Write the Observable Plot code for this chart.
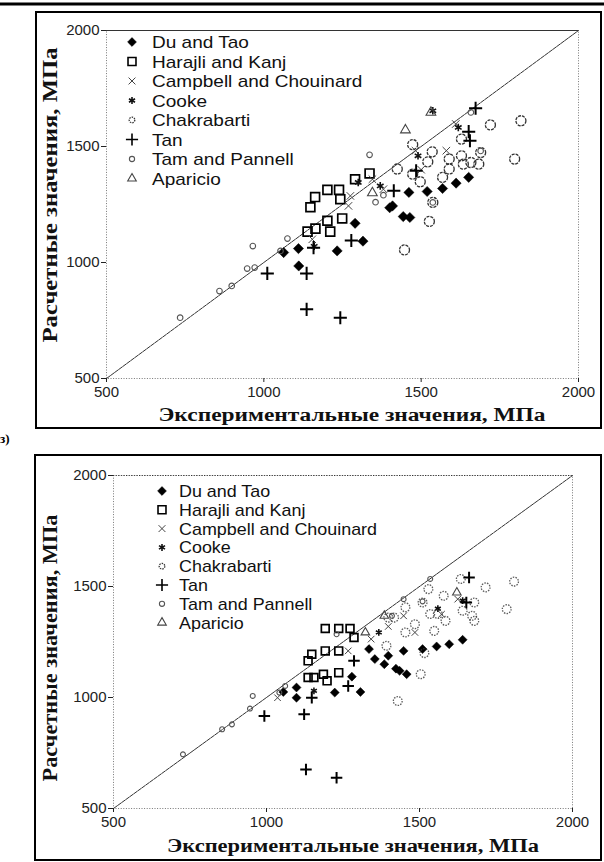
<!DOCTYPE html>
<html><head><meta charset="utf-8">
<script src="https://cdn.jsdelivr.net/npm/d3@7"></script>
<script src="https://cdn.jsdelivr.net/npm/@observablehq/plot@0.6"></script>
<style>
html,body{margin:0;padding:0;background:#fff}
body{width:604px;height:862px;position:relative;overflow:hidden;font-family:Arial,"Liberation Sans",sans-serif}
.chart{position:absolute}
#overlay{position:absolute;left:0;top:0;pointer-events:none}
</style></head><body>
<div id="c1" class="chart" style="left:36px;top:12px"></div>
<div id="c2" class="chart" style="left:35px;top:455px"></div>
<svg id="overlay" width="604" height="862"></svg>
<script>
// ---------- data ----------
const seriesNames = ["Du and Tao","Harajli and Kanj","Campbell and Chouinard","Cooke","Chakrabarti","Tan","Tam and Pannell","Aparicio"];
const tickValues = [500, 1000, 1500, 2000];
const diagonal = [500, 2000];
const xTitle = "Экспериментальные значения, МПа";
const yTitle = "Расчетные значения, МПа";
const panelLabel = "з)";

// top chart
const topDuTao = [[1063,1043],[1110,1060],[1111,985],[1233,1050],[1315,1092],[1290,1169],[1400,1236],[1409,1244],[1443,1198],[1464,1194],[1461,1302],[1519,1306],[1568,1319],[1611,1342],[1651,1367]];
const topHarajli = [[1148,1238],[1163,1282],[1202,1313],[1239,1313],[1243,1273],[1249,1190],[1202,1180],[1211,1133],[1164,1146],[1139,1133],[1290,1359],[1336,1384]];
const topCampbell = [[1154,1100],[1269,1244],[1275,1287],[1345,1359],[1380,1316],[1482,1482],[1500,1400],[1580,1482],[1610,1597]];
const topCooke = [[1160,1070],[1300,1345],[1490,1460],[1537,1654],[1618,1582],[1370,1330]];
const topChakrabarti = [[1447,1054],[1526,1177],[1720,1593],[1817,1611],[1797,1446],[1473,1508],[1497,1348],[1568,1367],[1589,1446],[1628,1460],[1658,1431],[1683,1424],[1628,1532],[1535,1477],[1521,1434],[1473,1381],[1424,1403],[1537,1259],[1689,1474],[1634,1424],[1589,1403]];
const topTan = [[1011,953],[1136,953],[1136,798],[1243,762],[1158,1064],[1278,1095],[1673,1665],[1655,1525],[1651,1564],[1484,1395],[1413,1309]];
const topTam = [[734,762],[859,877],[898,899],[947,974],[971,978],[965,1071],[1053,1050],[1075,1103],[1336,1464],[1658,1647],[1689,1481],[1537,1259],[1355,1260],[1380,1290]];
const topAparicio = [[1450,1571],[1531,1647],[1345,1300]];

// bottom chart
const botDuTao = [[1055,1025],[1098,999],[1098,1045],[1223,1022],[1307,1025],[1279,1094],[1335,1218],[1354,1173],[1385,1150],[1398,1188],[1423,1130],[1435,1120],[1458,1105],[1448,1210],[1510,1218],[1556,1230],[1597,1240],[1641,1260]];
const botHarajli = [[1192,1311],[1236,1311],[1273,1311],[1286,1270],[1192,1210],[1236,1210],[1148,1195],[1136,1165],[1186,1105],[1236,1112],[1198,1075],[1136,1090],[1155,1090]];
const botCampbell = [[1036,999],[1267,1210],[1342,1263],[1448,1368],[1485,1293],[1572,1375],[1625,1443],[1398,1320]];
const botCooke = [[1155,1030],[1367,1293],[1641,1436],[1560,1400]];
const botChakrabarti = [[1429,984],[1504,1105],[1516,1200],[1548,1300],[1392,1233],[1417,1360],[1454,1406],[1510,1428],[1485,1330],[1529,1488],[1635,1534],[1716,1496],[1809,1522],[1785,1398],[1672,1368],[1679,1428],[1641,1391],[1585,1345],[1560,1376],[1535,1376],[1579,1458],[1679,1345],[1454,1293],[1398,1360]];
const botTan = [[993,917],[1123,924],[1129,676],[1229,638],[1148,999],[1267,1052],[1286,1165],[1662,1541],[1653,1428]];
const botTam = [[727,744],[855,857],[887,879],[946,950],[955,1007],[1042,1022],[1061,1052],[1535,1534],[1448,1443],[1510,1433],[1410,1368],[1229,1285]];
const botAparicio = [[1385,1368],[1323,1293],[1622,1473]];

// ---------- styles ----------
const styles = {
  "Du and Tao": {symbol:"diamond2", fill:"#000", stroke:"#000", strokeWidth:0.5, r:4.6, lr:4},
  "Harajli and Kanj": {symbol:"square", fill:"none", stroke:"#000", strokeWidth:1.7, r:5, lr:4.5},
  "Campbell and Chouinard": {symbol:"times", fill:"none", stroke:"#444", strokeWidth:1, r:3.5, lr:3.2},
  "Cooke": {symbol:"asterisk", fill:"none", stroke:"#111", strokeWidth:1.6, r:3.6, lr:3.3},
  "Chakrabarti": {symbol:"circle", fill:"none", stroke:"#333", strokeWidth:1.3, strokeDasharray:"3,1", r:5, lr:2.8},
  "Tan": {symbol:"plus", fill:"none", stroke:"#000", strokeWidth:2, r:4.3, lr:4},
  "Tam and Pannell": {symbol:"circle", fill:"none", stroke:"#555", strokeWidth:1.1, r:2.8, lr:2.6},
  "Aparicio": {symbol:"triangle", fill:"none", stroke:"#444", strokeWidth:1.1, r:3.6, lr:3.2}
};

function makeChart(sets, cfg) {
  const marks = [
    Plot.frame({stroke:"#777", strokeDasharray:"1,1.6", strokeWidth:1}),
    Plot.ruleY([tickValues[tickValues.length-1]], {stroke:"#333", strokeWidth:1, strokeDasharray: cfg.topSolid ? null : "1,1.6"}),
    Plot.line(diagonal.map(v => ({x:v, y:v})), {x:"x", y:"y", stroke:"#333", strokeWidth:1, strokeDasharray:"4,1"}),
    Plot.axisX({ticks:tickValues, tickFormat:d => String(d), tickSize:4, tickPadding:4, fontSize:15, label:null}),
    Plot.axisY({ticks:tickValues, tickFormat:d => String(d), tickSize:5, tickPadding:2, fontSize:15, label:null})
  ];
  seriesNames.forEach((name, i) => {
    const s = styles[name];
    const rows = sets[i].map(([x,y]) => ({x, y}));
    marks.push(Plot.dot(rows, {x:"x", y:"y", symbol:()=>s.symbol, r: s.r * cfg.scale, fill:s.fill, stroke:s.stroke,
      strokeWidth:s.strokeWidth, strokeDasharray: name === "Chakrabarti" ? cfg.chakDash : s.strokeDasharray,
      strokeOpacity: name === "Chakrabarti" ? cfg.chakOpacity : 1}));
  });
  return Plot.plot({
    width: cfg.width, height: cfg.height,
    marginLeft: cfg.ml, marginRight: cfg.mr, marginTop: cfg.mt, marginBottom: cfg.mb,
    x: {domain:[tickValues[0], tickValues[tickValues.length-1]]},
    y: {domain:[tickValues[0], tickValues[tickValues.length-1]]},
    symbol: {type:"identity"},
    style: {fontFamily:"Arial, 'Liberation Sans', sans-serif", color:"#222", background:"transparent", overflow:"visible"},
    marks
  });
}

document.getElementById("c1").appendChild(makeChart(
  [topDuTao, topHarajli, topCampbell, topCooke, topChakrabarti, topTan, topTam, topAparicio],
  {width:565, height:416, ml:70, mr:23, mt:18, mb:50, scale:1, topSolid:true, chakDash:"3,1", chakOpacity:1}));
document.getElementById("c2").appendChild(makeChart(
  [botDuTao, botHarajli, botCampbell, botCooke, botChakrabarti, botTan, botTam, botAparicio],
  {width:566, height:405, ml:78, mr:29, mt:20, mb:52, scale:0.88, topSolid:false, chakDash:"1.5,1.2", chakOpacity:0.8}));

// ---------- overlay: frames, titles, legends ----------
const ov = d3.select("#overlay");
const symMap = {diamond2:d3.symbolDiamond2, square:d3.symbolSquare, times:d3.symbolTimes, asterisk:d3.symbolAsterisk,
  circle:d3.symbolCircle, plus:d3.symbolPlus, triangle:d3.symbolTriangle};

ov.append("line").attr("x1",0).attr("x2",604).attr("y1",4).attr("y2",4).attr("stroke","#000").attr("stroke-width",3);
ov.append("rect").attr("x",36).attr("y",12).attr("width",565).attr("height",416).attr("fill","none").attr("stroke","#000").attr("stroke-width",2);
ov.append("rect").attr("x",35).attr("y",455).attr("width",566).attr("height",405).attr("fill","none").attr("stroke","#000").attr("stroke-width",2);
ov.append("text").attr("x",0).attr("y",443).attr("font-size",13).attr("font-weight","bold").attr("font-family","'Liberation Serif',serif").text(panelLabel);

function titles(cx, by, xLen, yx, ycy, yLen) {
  ov.append("text").attr("x",cx).attr("y",by).attr("text-anchor","middle")
    .attr("font-family","'Liberation Serif','Times New Roman',serif").attr("font-weight","bold").attr("font-size",18)
    .attr("textLength",xLen).attr("lengthAdjust","spacingAndGlyphs").attr("fill","#111").text(xTitle);
  ov.append("text").attr("transform",`translate(${yx},${ycy}) rotate(-90)`).attr("text-anchor","middle")
    .attr("font-family","'Liberation Serif','Times New Roman',serif").attr("font-weight","bold").attr("font-size",20)
    .attr("textLength",yLen).attr("lengthAdjust","spacingAndGlyphs").attr("fill","#111").text(yTitle);
}
titles(352, 421, 387, 57, 195, 295);
titles(353, 852, 372, 57, 648, 267);

function legend(sx, tx, y0, dy, fs, stretch) {
  seriesNames.forEach((name, i) => {
    const s = styles[name];
    const y = y0 + i*dy;
    ov.append("path").attr("transform",`translate(${sx},${y})`)
      .attr("d", d3.symbol(symMap[s.symbol], Math.PI*s.lr*s.lr)())
      .attr("fill", s.fill).attr("stroke", s.stroke).attr("stroke-width", Math.min(s.strokeWidth,1.6))
      .attr("stroke-dasharray", name === "Chakrabarti" ? "1.5,1" : null);
    ov.append("text").attr("transform",`translate(${tx},${y+6}) scale(${stretch},1)`)
      .attr("font-size",fs).attr("font-family","Arial,'Liberation Sans',sans-serif").attr("fill","#111").text(name);
  });
}
legend(132, 152, 42, 19.5, 17, 1.12);
legend(162, 179, 491, 18.8, 16, 1.12);
</script>
</body></html>
